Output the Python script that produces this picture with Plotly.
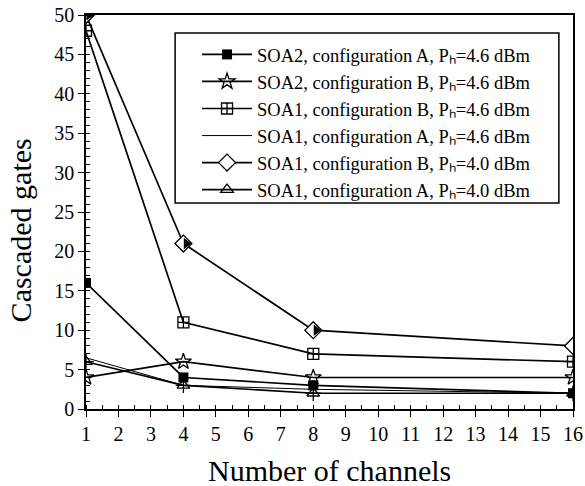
import plotly.graph_objects as go

channels = [1, 4, 8, 16]
soa2_a_46 = [16, 4, 3, 2]
soa2_b_46 = [4, 6, 4, 4]
soa1_b_46 = [48, 11, 7, 6]
soa1_a_46 = [6.5, 3, 2.5, 2]
soa1_b_40 = [50, 21, 10, 8]
soa1_a_40 = [6, 3, 2, 2]

names = [
    "SOA2, configuration A, P\u2095=4.6 dBm",
    "SOA2, configuration B, P\u2095=4.6 dBm",
    "SOA1, configuration B, P\u2095=4.6 dBm",
    "SOA1, configuration A, P\u2095=4.6 dBm",
    "SOA1, configuration B, P\u2095=4.0 dBm",
    "SOA1, configuration A, P\u2095=4.0 dBm",
]
x_title = "Number of channels"
y_title = "Cascaded gates"

fig = go.Figure()
line = dict(color="black", width=1.7)

fig.add_trace(go.Scatter(x=channels, y=soa2_a_46, name=names[0], mode="lines+markers", line=line,
                         marker=dict(symbol="square", size=10, color="black")))
fig.add_trace(go.Scatter(x=channels, y=soa2_b_46, name=names[1], mode="lines+markers", line=line,
                         marker=dict(symbol="star-open", size=12, color="black", line=dict(width=1.3))))
fig.add_trace(go.Scatter(x=channels, y=soa1_b_46, name=names[2], mode="lines+markers", line=line,
                         marker=dict(symbol="square-cross-open", size=11, color="black", line=dict(width=1.3))))
fig.add_trace(go.Scatter(x=channels, y=soa1_a_46, name=names[3], mode="lines",
                         line=dict(color="black", width=1)))
fig.add_trace(go.Scatter(x=channels, y=soa1_b_40, name=names[4], mode="lines+markers", line=line,
                         marker=dict(symbol="diamond", size=13, color="white", line=dict(width=1.3, color="black"))))
fig.add_trace(go.Scatter(x=[c + 0.09 for c in channels], y=soa1_b_40, showlegend=False, mode="markers", hoverinfo="skip",
                         marker=dict(symbol="triangle-right", size=10, color="black", line=dict(width=0))))
fig.add_trace(go.Scatter(x=channels, y=soa1_a_40, name=names[5], mode="lines+markers", line=line,
                         marker=dict(symbol="triangle-up-open", size=11, color="black", line=dict(width=1.3))))
fig.add_trace(go.Scatter(x=channels, y=soa1_a_40, showlegend=False, mode="markers", hoverinfo="skip",
                         marker=dict(symbol="cross-thin-open", size=11, color="black", line=dict(width=1.3, color="black"))))

font = dict(family="Liberation Serif, Times New Roman, serif", color="black")

fig.update_layout(
    width=585, height=486,
    margin=dict(l=86, r=12, t=15, b=77),
    paper_bgcolor="white", plot_bgcolor="white",
    font=dict(**font, size=18),
    showlegend=True,
    legend=dict(x=0.228, y=0.947, xanchor="left", yanchor="top",
                borderwidth=0, bgcolor="rgba(0,0,0,0)",
                font=dict(**font, size=18.5), tracegroupgap=0, itemwidth=50),
    shapes=[dict(type="rect", xref="paper", yref="paper", x0=0.183, x1=0.971, y0=0.523, y1=0.954,
                 line=dict(color="black", width=1.5), fillcolor="white", layer="below")],
    annotations=[
        dict(text=y_title, xref="paper", yref="paper", x=-0.135, y=0.454, textangle=-90,
             showarrow=False, xanchor="center", yanchor="middle", font=dict(**font, size=30)),
        dict(text=x_title, xref="paper", yref="paper", x=0.5, y=-0.155,
             showarrow=False, xanchor="center", yanchor="middle", font=dict(**font, size=30)),
    ],
    xaxis=dict(range=[1, 16], tickmode="linear", tick0=1, dtick=1, automargin=False,
               showline=True, linecolor="black", linewidth=1.5, mirror=True,
               ticks="outside", ticklen=6, tickwidth=1.3, tickcolor="black",
               minor=dict(ticks="inside", ticklen=4, dtick=0.5, tickcolor="black", tickwidth=1),
               showgrid=False, zeroline=False,
               tickfont=dict(**font, size=20)),
    yaxis=dict(range=[0, 50], tickmode="linear", tick0=0, dtick=5, automargin=False,
               showline=True, linecolor="black", linewidth=1.5, mirror=True,
               ticks="outside", ticklen=6, tickwidth=1.3, tickcolor="black",
               minor=dict(ticks="inside", ticklen=4, dtick=1, tickcolor="black", tickwidth=1),
               showgrid=False, zeroline=False,
               tickfont=dict(**font, size=20)),
)

fig.write_html("out.html", config={"displayModeBar": False},
               post_script="document.body.style.margin='0';")
